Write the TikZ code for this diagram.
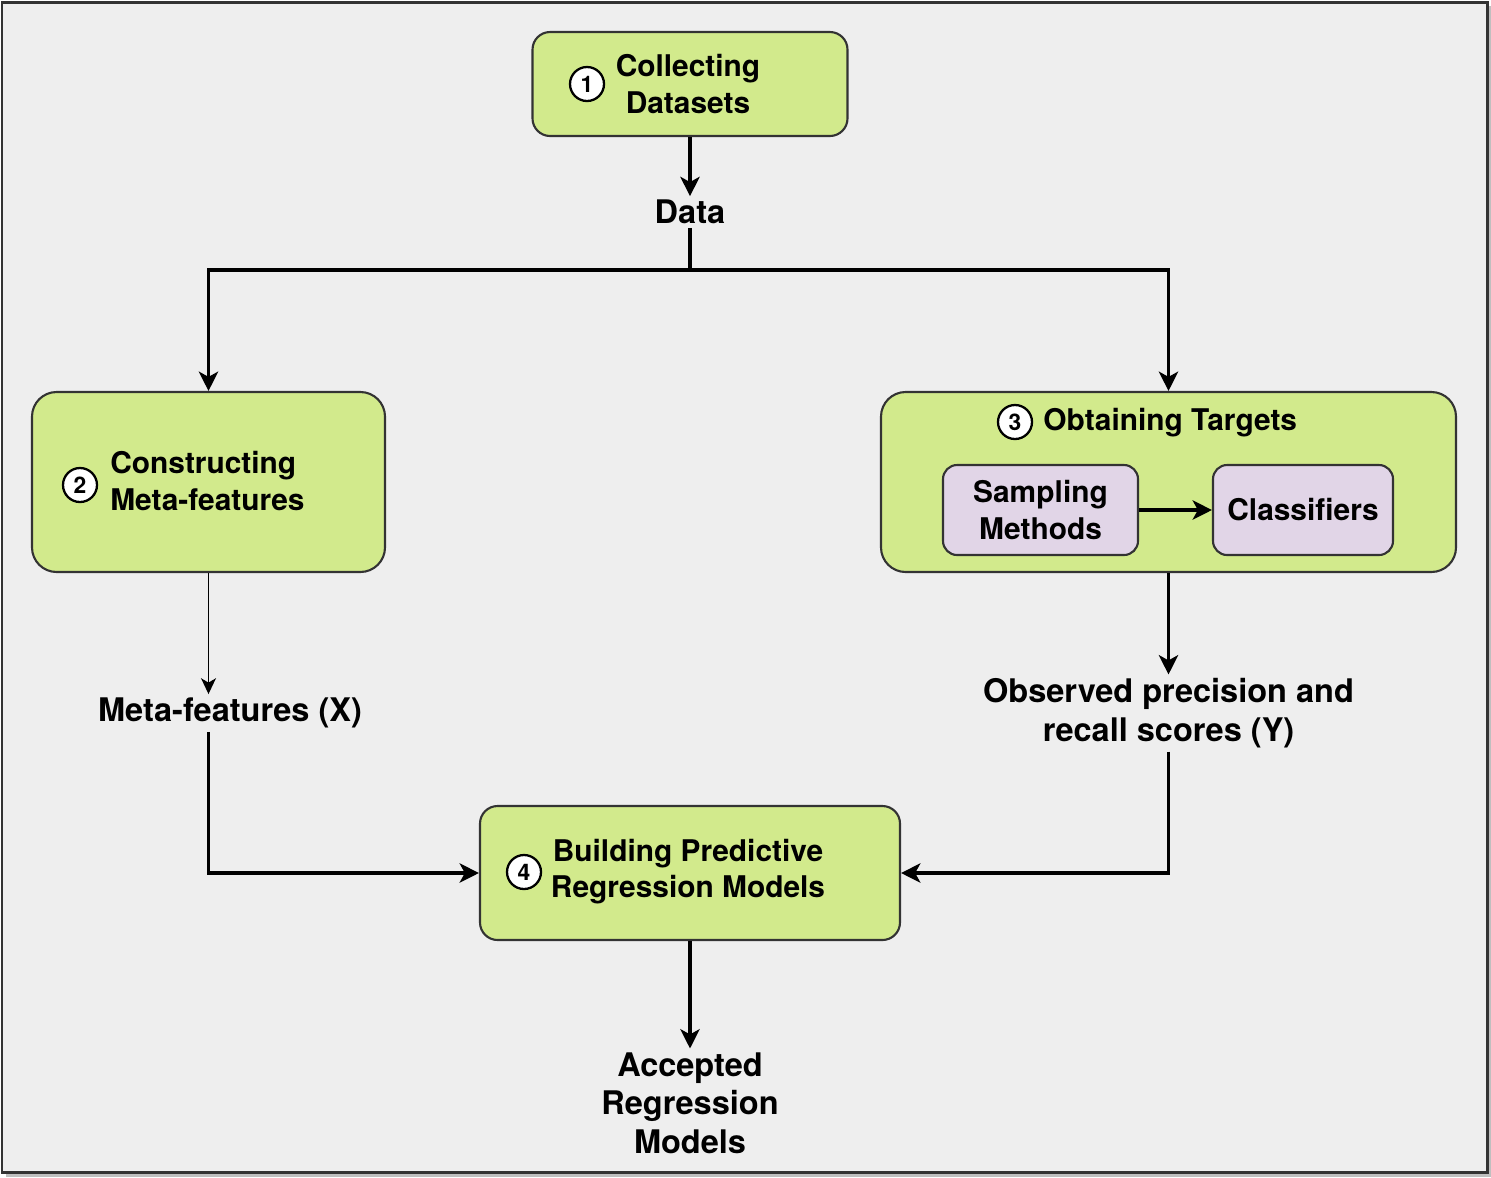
\documentclass[tikz,border=0pt]{standalone}
\usepackage{fontspec}
\setmainfont{TeX Gyre Heros}
\usepackage{xcolor}
\usepackage{tikz}
\usetikzlibrary{positioning, arrows.meta, shapes.geometric}

\definecolor{stagegreen}{HTML}{D2EA8C}
\definecolor{subpurple}{HTML}{E1D5E7}
\definecolor{framegray}{HTML}{EEEEEE}
\definecolor{edgegray}{HTML}{333333}

\begin{document}
\begin{tikzpicture}[
  stage/.style={draw=edgegray, line width=1.2pt, fill=stagegreen, rounded corners=10pt},
  substage/.style={draw=edgegray, line width=1.2pt, fill=subpurple, rounded corners=8pt},
  numcirc/.style={circle, draw=black, line width=1.3pt, fill=white, minimum size=0.68cm, inner sep=0pt, font=\fontsize{13}{13}\selectfont\bfseries},
  boxtext/.style={font=\fontsize{17}{20.5}\selectfont\bfseries, inner sep=0pt},
  lbl/.style={font=\fontsize{18.5}{22}\selectfont\bfseries, align=center, inner sep=2pt},
  arr/.style={-{Stealth[length=11pt,width=11pt,inset=3pt]}, line width=1.9pt},
  thinarr/.style={-{Stealth[length=9pt,width=8.5pt,inset=2.5pt]}, line width=0.85pt},
  link/.style={line width=1.9pt}
]
\useasboundingbox (0,0) rectangle (29.82,-23.54);
% Frame
\fill[black!25] (0.12,-0.12) rectangle (29.82,-23.54);
\draw[draw=edgegray, line width=1.7pt, fill=framegray] (0.04,-0.04) rectangle (29.74,-23.44);
% Stages
\node[stage, minimum width=6.3cm, minimum height=2.08cm] (collect) at (13.8,-1.68) {};
\node[numcirc] (c1) at (11.74,-1.68) {1};
\node[boxtext, align=center] (collecttxt) at (13.76,-1.68) {Collecting\\Datasets};

\node[stage, rounded corners=14pt, minimum width=7.06cm, minimum height=3.6cm] (construct) at (4.17,-9.64) {};
\node[numcirc] (c2) at (1.6,-9.7) {2};
\node[boxtext, align=left, anchor=west] (constructtxt) at (2.2,-9.62) {Constructing\\Meta-features};

\node[stage, rounded corners=14pt, minimum width=11.5cm, minimum height=3.6cm] (targets) at (23.37,-9.64) {};
\node[numcirc] (c3) at (20.3,-8.44) {3};
\node[boxtext, anchor=west] (targetstxt) at (20.86,-8.46) {Obtaining Targets};
\node[substage, boxtext, align=center, minimum width=3.9cm, minimum height=1.8cm] (sampling) at (20.81,-10.2) {Sampling\\Methods};
\node[substage, boxtext, minimum width=3.6cm, minimum height=1.8cm] (classif) at (26.06,-10.2) {Classifiers};

\node[stage, minimum width=8.4cm, minimum height=2.68cm] (build) at (13.8,-17.46) {};
\node[numcirc] (c4) at (10.48,-17.44) {4};
\node[boxtext, align=center] (buildtxt) at (13.76,-17.44) {Building Predictive\\Regression Models};

% Labels
\node[lbl] (data) at (13.8,-4.24) {Data};
\node[lbl] (metax) at (4.6,-14.26) {Meta-features (X)};
\node[lbl] (obs) at (23.37,-14.26) {Observed precision and\\recall scores (Y)};
\node[lbl] (accepted) at (13.8,-22.06) {Accepted\\Regression\\Models};
\coordinate (split) at (13.8,-5.4);

% Connectors
\draw[arr] (collect) -- (data);
\draw[link] (data) -- (split);
\draw[arr] (split) -| (construct);
\draw[arr] (split) -| (targets);
\draw[arr] (sampling) -- (classif);
\draw[thinarr] (construct.south) -- (construct.south |- metax.north);
\draw[arr] (construct.south |- metax.south) |- (build);
\draw[arr] (targets) -- (obs);
\draw[arr] (obs) |- (build);
\draw[arr] (build) -- (accepted);
\end{tikzpicture}
\end{document}
